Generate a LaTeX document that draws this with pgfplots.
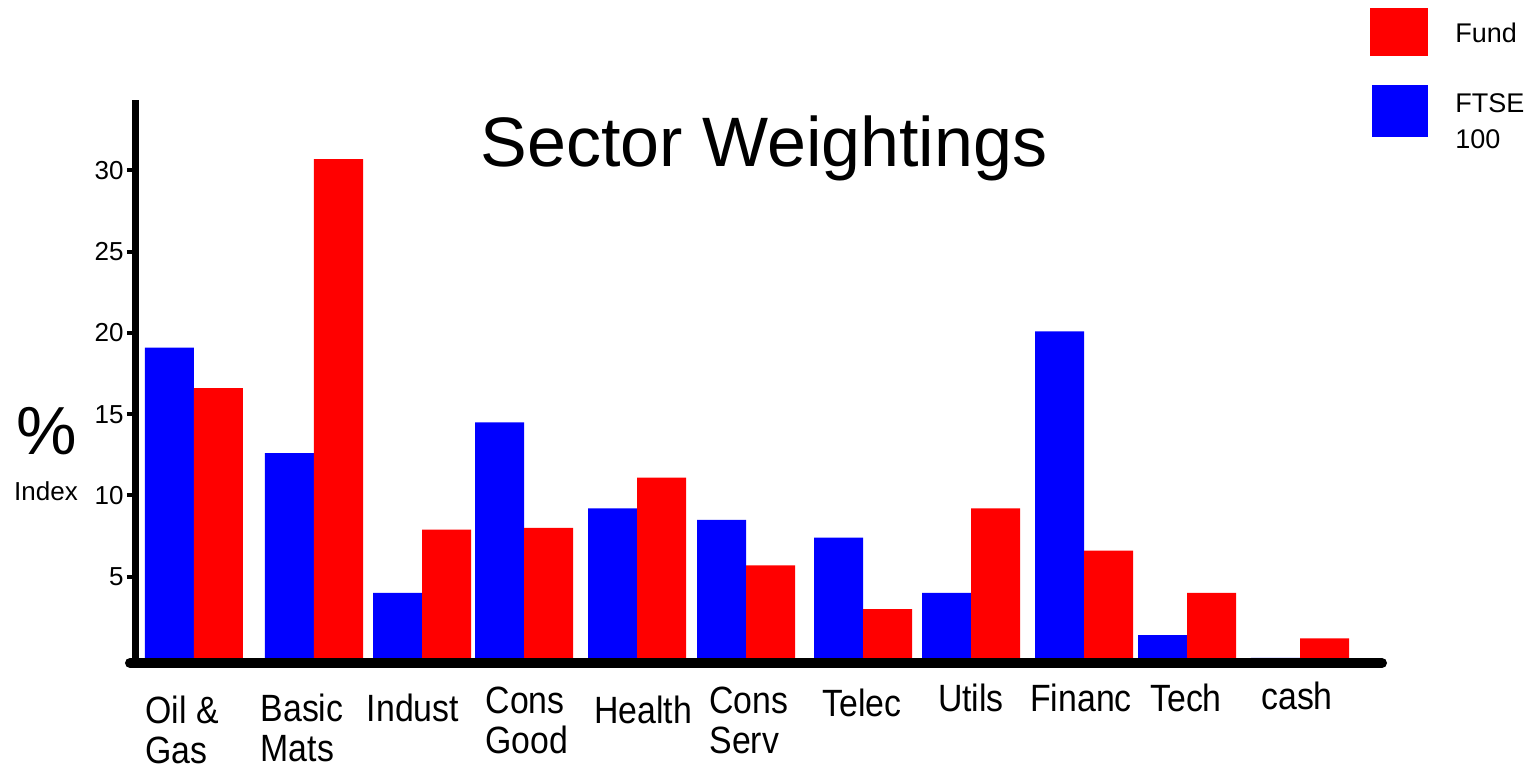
\documentclass[border=0pt]{standalone}
\usepackage{fontspec}
\setmainfont{Liberation Sans}
\usepackage{pgfplots}
\usepackage{pgfplotstable}
\pgfplotsset{compat=1.18}
\usepackage{graphicx}

\definecolor{fblue}{RGB}{0,0,255}
\definecolor{fred}{RGB}{255,0,0}

\newcommand{\xl}[2]{\raisebox{#1}{\scalebox{0.89}[1]{\fontsize{19}{20}\selectfont\begin{tabular}[t]{@{}l@{}}#2\end{tabular}}}}

\pgfplotstableread{
x ftse fund
194 19.1 16.6
314 12.6 30.7
422 4.0 7.9
524 14.5 8.0
637 9.2 11.1
746 8.5 5.7
863 7.4 3.0
971 4.0 9.2
1084 20.1 6.6
1187 1.4 4.0
1300 0 1.2
}\datatable

\begin{document}
\begin{tikzpicture}
\begin{axis}[
  scale only axis,
  x=0.5pt, y=8.125pt,
  xmin=136, xmax=1387, ymin=0, ymax=34.34,
  clip=false,
  axis line style={draw=none},
  ybar, bar width=49,
  ytick={5,10,15,20,25,30},
  ytick pos=left,
  tick align=outside,
  major tick length=4.5pt,
  ytick style={black, line width=2pt},
  xtick={182,302,413,527,643,749,862,971,1081,1186,1297},
  xtick style={draw=none},
  xticklabels={{\xl{0pt}{Oil \&\\Gas}},{\xl{1pt}{Basic\\Mats}},{\xl{1pt}{Indust}},{\xl{5pt}{Cons\\Good}},{\xl{0pt}{Health}},{\xl{5pt}{Cons\\Serv}},{\xl{3.5pt}{Telec}},{\xl{6pt}{Utils}},{\xl{6pt}{Financ}},{\xl{6pt}{Tech}},{\xl{7pt}{cash}}},
  xticklabel style={anchor=base, inner sep=0pt, yshift=-28.5pt},
  yticklabel style={font=\fontsize{13}{15}\selectfont, anchor=east, inner sep=0pt, xshift=-1.5pt},
  /pgf/number format/assume math mode=true,
]
\addplot[fill=fblue, draw=none, bar shift=-24.5] table[x=x,y=ftse]{\datatable};
\addplot[fill=fred, draw=none, bar shift=24.5] table[x=x,y=fund]{\datatable};

\draw[line width=3.5pt] (axis cs:135.5,-0.615) -- (axis cs:135.5,34.34);
\draw[line width=5pt, line cap=round] (axis cs:130,-0.308) -- (axis cs:1382,-0.308);

\node[anchor=base, inner sep=0pt, font=\fontsize{35}{40}\selectfont] at (axis cs:764,30.22) {Sector Weightings};
\node[anchor=base, inner sep=0pt, font=\fontsize{34}{36}\selectfont] at (axis cs:47,12.49) {\%};
\node[anchor=base, inner sep=0pt, font=\fontsize{13}{15}\selectfont] at (axis cs:46,9.72) {Index};

\fill[fred] (axis cs:1370,40.0) rectangle (axis cs:1428,37.05);
\fill[fblue] (axis cs:1372,35.26) rectangle (axis cs:1428,32.06);
\node[anchor=base west, inner sep=0pt, font=\fontsize{13.5}{15}\selectfont] at (axis cs:1455,37.85) {Fund};
\node[anchor=base west, inner sep=0pt, font=\fontsize{13.5}{15}\selectfont] at (axis cs:1455,33.54) {FTSE};
\node[anchor=base west, inner sep=0pt, font=\fontsize{13.5}{15}\selectfont] at (axis cs:1455,31.38) {100};

\coordinate (bbA) at (axis cs:0,-6.954);
\coordinate (bbB) at (axis cs:1537,40.49);
\end{axis}
\pgfresetboundingbox
\path[use as bounding box] (bbA) rectangle (bbB);
\end{tikzpicture}
\end{document}
